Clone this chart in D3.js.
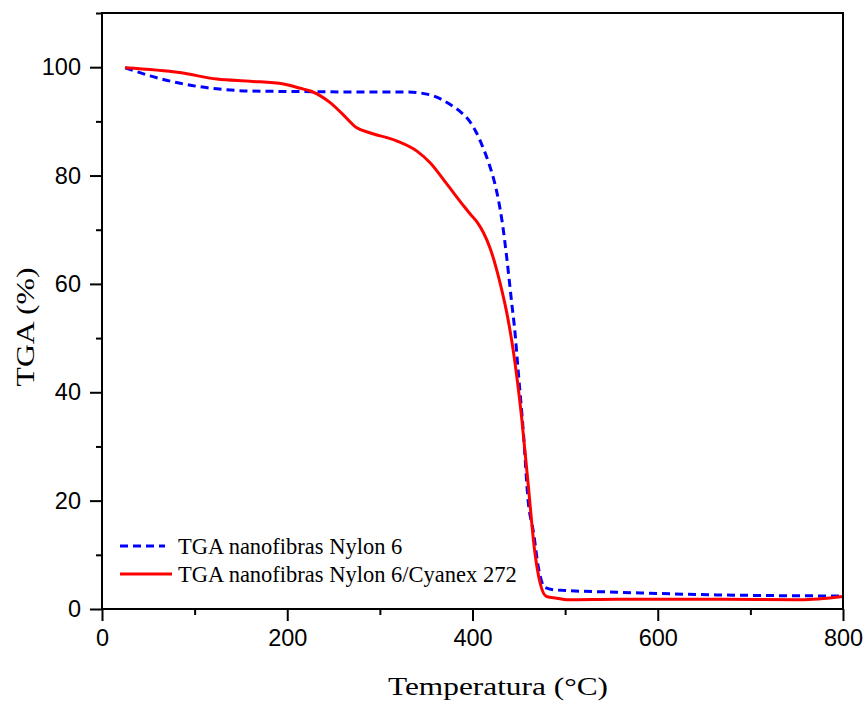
<!DOCTYPE html>
<html>
<head>
<meta charset="utf-8">
<script src="https://cdnjs.cloudflare.com/ajax/libs/d3/7.8.5/d3.min.js"></script>
<style>
  body { margin: 0; background: #fff; }
</style>
</head>
<body>
<div id="chart"></div>
<script>
// data
const tempN6 = [25, 52, 88, 124, 160, 214, 300, 330, 354, 366, 376, 388, 397, 404, 411, 418, 424, 428, 432, 437, 442, 446, 449, 455, 460, 466, 471, 478, 491, 556, 664, 800];
const tgaN6 = [99.9, 98.4, 96.9, 96.0, 95.6, 95.5, 95.4, 95.4, 94.9, 94.1, 93.1, 91.6, 90.0, 88.0, 85.3, 82.1, 78.6, 75.5, 71.5, 64.8, 57.0, 50.8, 44.6, 32.4, 20.1, 14.0, 7.8, 4.0, 3.5, 3.1, 2.6, 2.4];

const tempCy = [25, 84, 124, 160, 196, 214, 225, 246, 260, 275, 289, 318, 340, 354, 372, 390, 398, 405, 412, 419, 430, 438, 444, 453, 460, 467, 473, 480, 491, 502, 556, 664, 754, 800];
const tgaCy = [99.9, 99.0, 97.8, 97.4, 96.9, 96.1, 95.6, 93.5, 91.3, 88.8, 87.9, 86.4, 84.5, 82.4, 78.5, 74.5, 72.8, 71.4, 69.4, 66.6, 60.0, 53.8, 47.7, 35.4, 23.2, 10.9, 4.8, 2.3, 2.0, 1.7, 1.8, 1.8, 1.7, 2.3];

const xTicks = [0, 200, 400, 600, 800];
const yTicks = [0, 20, 40, 60, 80, 100];
const xMinor = [100, 300, 500, 700];
const yMinor = [10, 30, 50, 70, 90, 110];

const series = [
  { name: 'TGA nanofibras Nylon 6', x: tempN6, y: tgaN6, color: '#0000ff', dash: '8,5' },
  { name: 'TGA nanofibras Nylon 6/Cyanex 272', x: tempCy, y: tgaCy, color: '#ff0000', dash: null }
];

let width = 865,
  height = 706,
  margin = { top: 13, right: 22, bottom: 97, left: 102 };

let svg = d3.select('#chart').append('svg')
  .attr('width', width)
  .attr('height', height);

let x = d3.scaleLinear().domain([0, 800]).range([margin.left, width - margin.right]);
let y = d3.scaleLinear().domain([0, 110]).range([height - margin.bottom, margin.top]);

// curves
let line = d3.line()
  .x(d => x(d[0]))
  .y(d => y(d[1]))
  .curve(d3.curveMonotoneX);

series.forEach(s => {
  svg.append('path')
    .datum(d3.zip(s.x, s.y))
    .attr('d', line)
    .attr('fill', 'none')
    .attr('stroke', s.color)
    .attr('stroke-width', 3)
    .attr('stroke-dasharray', s.dash);
});

// frame
svg.append('rect')
  .attr('x', margin.left)
  .attr('y', margin.top)
  .attr('width', width - margin.left - margin.right)
  .attr('height', height - margin.top - margin.bottom)
  .attr('fill', 'none')
  .attr('stroke', '#000')
  .attr('stroke-width', 2);

// axes
svg.append('g')
  .attr('transform', `translate(0,${height - margin.bottom})`)
  .call(d3.axisBottom(x).tickValues(xTicks).tickSize(12).tickPadding(8));

svg.append('g')
  .attr('transform', `translate(0,${height - margin.bottom})`)
  .call(d3.axisBottom(x).tickValues(xMinor).tickSize(6).tickFormat(''));

svg.append('g')
  .attr('transform', `translate(${margin.left},0)`)
  .call(d3.axisLeft(y).tickValues(yTicks).tickSize(12).tickPadding(9));

svg.append('g')
  .attr('transform', `translate(${margin.left},0)`)
  .call(d3.axisLeft(y).tickValues(yMinor).tickSize(6).tickFormat(''));

svg.selectAll('.domain').remove();
svg.selectAll('.tick line').attr('stroke', '#000').attr('stroke-width', 2);
svg.selectAll('.tick text')
  .attr('fill', '#000')
  .style('font-family', '"Liberation Sans", Arial, sans-serif')
  .style('font-size', '23.5px');

// axis titles (the source font is drawn a bit wide)
svg.append('text')
  .attr('x', 498)
  .attr('y', 695)
  .attr('text-anchor', 'middle')
  .attr('textLength', 220)
  .attr('lengthAdjust', 'spacingAndGlyphs')
  .style('font-family', '"Liberation Serif", "Times New Roman", serif')
  .style('font-size', '26px')
  .text('Temperatura (°C)');

svg.append('text')
  .attr('transform', 'translate(34,327) rotate(-90)')
  .attr('text-anchor', 'middle')
  .attr('textLength', 119)
  .attr('lengthAdjust', 'spacingAndGlyphs')
  .style('font-family', '"Liberation Serif", "Times New Roman", serif')
  .style('font-size', '26px')
  .text('TGA (%)');

// legend
let legend = svg.append('g');
series.forEach((s, i) => {
  let ly = 546 + i * 28;
  legend.append('line')
    .attr('x1', 120)
    .attr('x2', i === 0 ? 165 : 172)
    .attr('y1', ly)
    .attr('y2', ly)
    .attr('stroke', s.color)
    .attr('stroke-width', 3)
    .attr('stroke-dasharray', s.dash);
  legend.append('text')
    .attr('x', 178)
    .attr('y', ly + 8)
    .style('font-family', '"Liberation Serif", "Times New Roman", serif')
    .style('font-size', '22.5px')
    .text(s.name);
});
</script>
</body>
</html>
